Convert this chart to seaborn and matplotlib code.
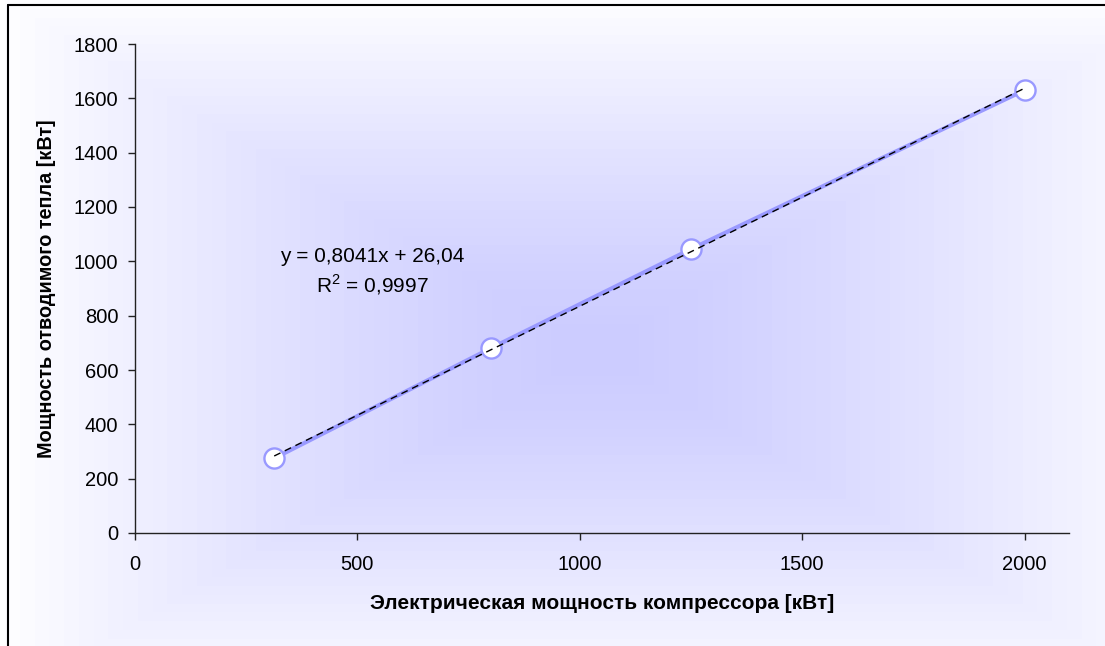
import numpy as np
import pandas as pd
import matplotlib
matplotlib.use("Agg")
import matplotlib.pyplot as plt
from matplotlib.lines import Line2D
import seaborn as sns

# data
compressor_kw = [313, 800, 1250, 2000]
heat_kw = [275, 680, 1045, 1630]
x_ticks = [0, 500, 1000, 1500, 2000]
y_ticks = [0, 200, 400, 600, 800, 1000, 1200, 1400, 1600, 1800]

x_label = "Электрическая мощность компрессора [кВт]"
y_label = "Мощность отводимого тепла [кВт]"
eq_text = "y = 0,8041x + 26,04"
r2_text = "R$^2$ = 0,9997"

series_color = "#9999ff"

sns.set_style("white")
plt.rcParams["font.family"] = ["Liberation Sans", "DejaVu Sans"]
plt.rcParams["text.color"] = "black"
plt.rcParams["axes.labelcolor"] = "black"
plt.rcParams["xtick.color"] = "black"
plt.rcParams["ytick.color"] = "black"
plt.rcParams["mathtext.fontset"] = "custom"
plt.rcParams["mathtext.rm"] = "Liberation Sans"

df = pd.DataFrame({"x": compressor_kw, "y": heat_kw})

W, H = 1105, 646
fig = plt.figure(figsize=(W / 100, H / 100), dpi=100)
fig.patch.set_facecolor("white")

# rectangular "from centre" gradient of the chart area
bg = fig.add_axes([0, 0, 1, 1], zorder=-5)
bg.set_axis_off()
px, py = np.meshgrid(np.arange(W) + 0.5, np.arange(H) + 0.5)
cx, cy, hw, hh = 595, 350, 590, 350
t = np.clip(np.maximum(np.abs(px - cx) / hw, np.abs(py - cy) / hh), 0, 1)
t = np.floor(t * 40) / 40
t = t ** 1.35
centre = np.array([204, 204, 255]) / 255.0
img = centre[None, None, :] + (1 - centre)[None, None, :] * t[..., None]
bg.imshow(img, extent=(0, 1, 0, 1), aspect="auto", interpolation="nearest")
bg.set_xlim(0, 1)
bg.set_ylim(0, 1)

# chart-area border (top and left visible)
fig.add_artist(Line2D([8 / W, 1], [1 - 5 / H, 1 - 5 / H], color="black", lw=1.5,
                      transform=fig.transFigure))
fig.add_artist(Line2D([8 / W, 8 / W], [0, 1 - 5 / H], color="black", lw=1.5,
                      transform=fig.transFigure))

ax = fig.add_axes([135 / W, 1 - 533 / H, (1069 - 135) / W, (533 - 44) / H])
ax.set_facecolor("none")

sns.lineplot(data=df, x="x", y="y", ax=ax, color=series_color, lw=3.0,
             marker="o", markersize=14.5, markerfacecolor="white",
             markeredgecolor=series_color, markeredgewidth=1.7, zorder=3)
sns.regplot(data=df, x="x", y="y", ax=ax, scatter=False, ci=None,
            line_kws=dict(color="black", lw=1.0, ls=(0, (5, 3.5)), zorder=4))

ax.set_xlim(0, 2100)
ax.set_ylim(0, 1800)
ax.set_xticks(x_ticks)
ax.set_yticks(y_ticks)
ax.tick_params(axis="both", direction="out", length=5, width=1, color="#222222",
               labelsize=14.5, bottom=True, left=True)
ax.tick_params(axis="x", pad=11)
ax.tick_params(axis="y", pad=7)

for side in ["top", "right"]:
    ax.spines[side].set_visible(False)
for side in ["left", "bottom"]:
    ax.spines[side].set_color("#222222")
    ax.spines[side].set_linewidth(1.0)

ax.set_xlabel(x_label, fontsize=15, fontweight="bold")
ax.set_ylabel(y_label, fontsize=14.3, fontweight="bold")
ax.xaxis.set_label_coords(0.5, -0.125)
ax.yaxis.set_label_coords(-0.085, 0.5)

ax.text(0.254, 0.566, eq_text, transform=ax.transAxes, ha="center", va="center",
        fontsize=15)
ax.text(0.254, 0.507, r2_text, transform=ax.transAxes, ha="center", va="center",
        fontsize=15)

fig.savefig("out.png", dpi=100)
